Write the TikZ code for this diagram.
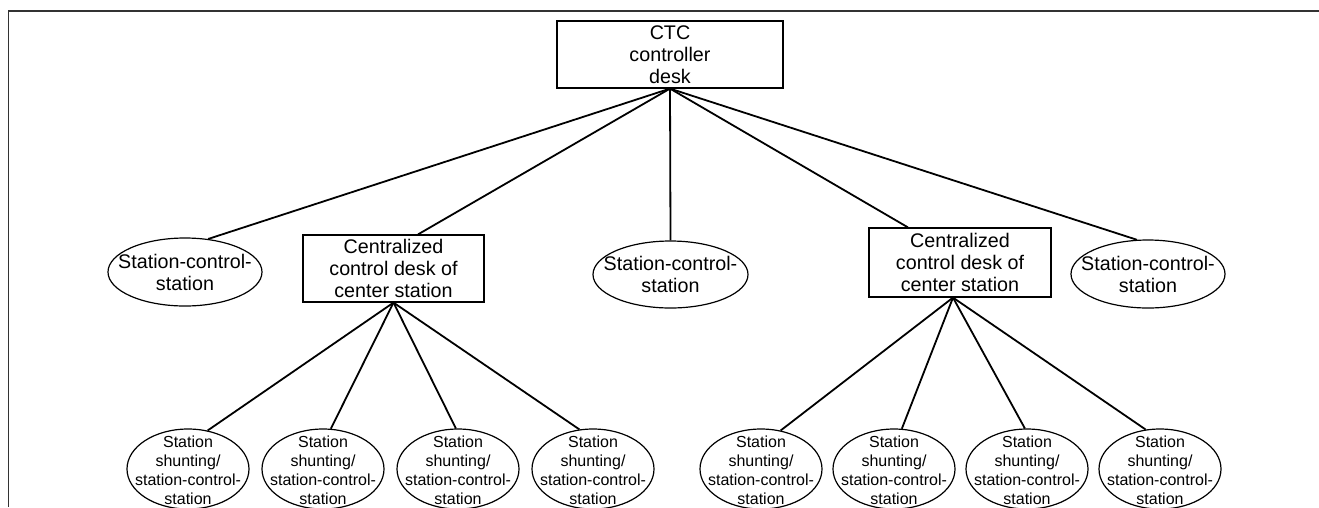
\documentclass[tikz,border=0pt]{standalone}
\usepackage{fontspec}
\setmainfont{Liberation Sans}
\usetikzlibrary{shapes.geometric,calc}
\tikzset{
  bigtxt/.style={font=\fontsize{19.7pt}{22pt}\selectfont, align=center},
  smalltxt/.style={font=\fontsize{16pt}{19pt}\selectfont, align=center},
  deskbox/.style={draw, line width=1.2pt, rectangle, inner sep=0pt, bigtxt},
  oval/.style={draw, line width=1.2pt, ellipse, inner sep=0pt},
  bigoval/.style={oval, minimum width=154pt, minimum height=68pt},
  smalloval/.style={oval, minimum width=122pt, minimum height=80pt},
  conn/.style={line width=1.8pt, black},
  frameline/.style={line width=1.8pt, black!80}
}
\begin{document}
\begin{tikzpicture}[x=1pt,y=-1pt]
\useasboundingbox (0,0) rectangle (1319,507);
% frame
\coordinate (fa) at (8.5,507);
\coordinate (fb) at (8.5,11);
\coordinate (fc) at (1319,11);
\draw[frameline] (fa) -- (fb) -- (fc);
% top node
\node[deskbox, minimum width=226pt, minimum height=67pt] (ctc) at (670,54.5) {CTC\\controller\\desk};
% second row
\node[bigoval, label={[bigtxt]center:Station-control-\\station}] (e1) at (185,272) {};
\node[deskbox, minimum width=181pt, minimum height=67pt] (boxL) at (393.5,268.5) {Centralized\\control desk of\\center station};
\node[bigoval, minimum width=155pt, minimum height=67pt, label={[bigtxt]center:Station-control-\\station}] (em) at (670.5,274.5) {};
\node[deskbox, minimum width=182pt, minimum height=69pt] (boxR) at (960,262.5) {Centralized\\control desk of\\center station};
\node[bigoval, label={[bigtxt]center:Station-control-\\station}] (e5) at (1148,274) {};
% bottom row
\foreach \n/\x in {l1/188,l2/323,l3/458,l4/593,r1/761,r2/894,r3/1027,r4/1160}{
  \node[smalloval, label={[smalltxt, yshift=-1pt]center:Station\\shunting/\\station-control-\\station}] (\n) at (\x,469) {};
}
% connectors from CTC
\draw[conn] (ctc.south) -- (e1.55);
\draw[conn] (ctc.south) -- ($(boxL.north)+(24.5,0)$);
\draw[conn] (ctc.south) -- (em.north);
\draw[conn] (ctc.south) -- ($(boxR.north)+(-52,0)$);
\draw[conn] (ctc.south) -- (e5.108);
% connectors from centralized desks
\draw[conn] (boxL.south) -- (l1.63);
\draw[conn] (boxL.south) -- (l2.79);
\draw[conn] (boxL.south) -- (l3.93);
\draw[conn] (boxL.south) -- (l4.109);
\draw[conn] ($(boxR.south)+(-7,0)$) -- (r1.63);
\draw[conn] ($(boxR.south)+(-7,0)$) -- (r2.79);
\draw[conn] ($(boxR.south)+(-7,0)$) -- (r3.93);
\draw[conn] ($(boxR.south)+(-7,0)$) -- (r4.110);
\end{tikzpicture}
\end{document}
